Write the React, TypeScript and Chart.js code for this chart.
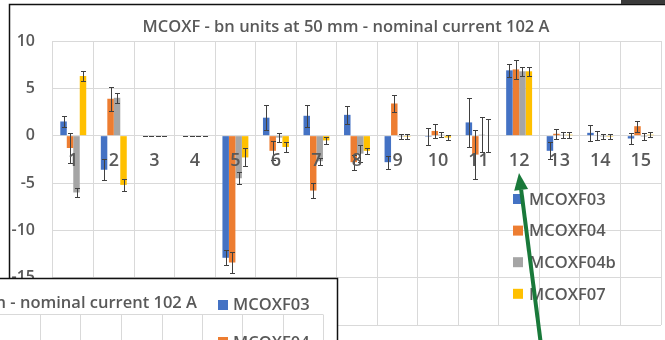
import React, { useEffect, useRef } from "react";
import { Chart, registerables } from "chart.js";

Chart.register(...registerables);

// Measurement positions along the magnet
const categories = ["1", "2", "3", "4", "5", "6", "7", "8", "9", "10", "11", "12", "13", "14", "15"];
const seriesNames = ["MCOXF03", "MCOXF04", "MCOXF04b", "MCOXF07"];
const seriesColors = ["#4472C4", "#ED7D31", "#A5A5A5", "#FFC000"];

// bn harmonics (units) and their uncertainties
const mcoxf03 = [1.5, -3.6, 0, 0, -12.9, 1.9, 2.1, 2.2, -2.8, -0.1, 1.4, 6.9, -1.6, 0.3, -0.3];
const mcoxf03Err = [0.6, 1.1, 0, 0, 0.8, 1.35, 1.15, 0.95, 0.7, 0.9, 2.6, 0.7, 0.9, 0.85, 0.6];
const mcoxf04 = [-1.3, 3.9, 0, 0, -13.4, -1.6, -5.8, -2.8, 3.4, 0.5, -2.0, 7.0, 0.2, 0.0, 1.0];
const mcoxf04Err = [1.6, 1.25, 0, 0, 1.1, 1.0, 0.75, 0.8, 0.9, 0.75, 2.55, 1.0, 0.5, 0.45, 0.6];
const mcoxf04b = [-6.0, 4.0, 0, 0, -4.5, -0.2, -2.7, -1.9, -0.1, 0.1, 0.1, 6.8, 0.1, -0.1, -0.1];
const mcoxf04bErr = [0.5, 0.55, 0, 0, 0.65, 0.45, 0.35, 0.9, 0.25, 0.25, 1.85, 0.45, 0.3, 0.3, 0.4];
const mcoxf07 = [6.3, -5.2, 0, 0, -2.3, -1.2, -0.5, -1.6, -0.1, -0.2, 0.0, 6.8, 0.1, -0.1, 0.1];
const mcoxf07Err = [0.55, 0.6, 0, 0, 0.95, 0.55, 0.35, 0.35, 0.25, 0.25, 1.75, 0.5, 0.3, 0.25, 0.25];

const yTicksMin = -20;
const yTicksMax = 10;
const yStep = 5;

const titleText = "MCOXF - bn units at 50 mm - nominal current 102 A";

const seriesValues = [mcoxf03, mcoxf04, mcoxf04b, mcoxf07];
const seriesErrors = [mcoxf03Err, mcoxf04Err, mcoxf04bErr, mcoxf07Err];

const FONT = "'Open Sans', 'DejaVu Sans', sans-serif";
const TEXT = "#595959";
const GRID = "#D9D9D9";

// Vertical error bars with caps, drawn through the value scale
const errorBarsPlugin = {
  id: "errorBars",
  afterDatasetsDraw(chart: any) {
    const ctx = chart.ctx;
    const y = chart.scales.y;
    ctx.save();
    ctx.strokeStyle = "#404040";
    ctx.lineWidth = 1;
    chart.data.datasets.forEach((ds: any, di: number) => {
      const meta = chart.getDatasetMeta(di);
      const errs = seriesErrors[di];
      meta.data.forEach((bar: any, i: number) => {
        const v = ds.data[i];
        const e = errs[i];
        const x = Math.round(bar.x) + 0.5;
        const y1 = Math.round(y.getPixelForValue(v + e)) + 0.5;
        const y2 = Math.round(y.getPixelForValue(v - e)) + 0.5;
        ctx.beginPath();
        ctx.moveTo(x, y1);
        ctx.lineTo(x, y2);
        ctx.moveTo(x - 2.5, y1);
        ctx.lineTo(x + 2.5, y1);
        ctx.moveTo(x - 2.5, y2);
        ctx.lineTo(x + 2.5, y2);
        ctx.stroke();
      });
    });
    ctx.restore();
  },
};

// Category labels sit next to the zero line, on top of the bars
const categoryLabelsPlugin = {
  id: "categoryLabels",
  afterDatasetsDraw(chart: any) {
    const ctx = chart.ctx;
    const xs = chart.scales.x;
    const y0 = chart.scales.y.getPixelForValue(0);
    ctx.save();
    ctx.fillStyle = TEXT;
    ctx.font = `600 18px ${FONT}`;
    ctx.textAlign = "center";
    ctx.textBaseline = "middle";
    chart.data.labels.forEach((lab: string, i: number) => {
      ctx.fillText(lab, xs.getPixelForValue(i), y0 + 25);
    });
    ctx.restore();
  },
};

// Title, legend, frame and the annotations laid over the figure
const decorPlugin = {
  id: "decor",
  afterDraw(chart: any) {
    const ctx = chart.ctx;
    ctx.save();

    // title
    ctx.fillStyle = TEXT;
    ctx.font = `600 16.5px ${FONT}`;
    ctx.textAlign = "center";
    ctx.textBaseline = "middle";
    ctx.fillText(titleText, 346, 27);

    // legend inside the plot area
    ctx.textAlign = "left";
    chart.data.datasets.forEach((ds: any, i: number) => {
      const cy = 199 + i * 31.6;
      ctx.fillStyle = ds.backgroundColor;
      ctx.fillRect(513, cy - 5, 10, 10);
      ctx.fillStyle = TEXT;
      ctx.font = `600 16.5px ${FONT}`;
      ctx.fillText(ds.label, 529, cy + 1);
    });

    // chart frame
    ctx.strokeStyle = "#111";
    ctx.lineWidth = 1.5;
    ctx.beginPath();
    ctx.moveTo(9.5, 340);
    ctx.lineTo(9.5, 4.5);
    ctx.lineTo(665, 4.5);
    ctx.stroke();
    ctx.fillStyle = "#3a3a3a";
    ctx.fillRect(621, 0, 44, 4);

    // second window overlapping the lower left corner
    ctx.fillStyle = "#ffffff";
    ctx.fillRect(0, 278, 338, 62);
    ctx.strokeStyle = GRID;
    ctx.lineWidth = 1;
    ctx.beginPath();
    ctx.moveTo(0, 314.5);
    ctx.lineTo(323, 314.5);
    [40, 80, 121, 162, 202, 242, 283, 323].forEach((gx) => {
      ctx.moveTo(gx + 0.5, 314.5);
      ctx.lineTo(gx + 0.5, 340);
    });
    ctx.stroke();
    ctx.fillStyle = TEXT;
    ctx.font = `600 16.5px ${FONT}`;
    ctx.textAlign = "right";
    ctx.fillText("50 mm - nominal current 102 A", 197, 303);
    ctx.textAlign = "left";
    ctx.fillStyle = seriesColors[0];
    ctx.fillRect(218, 300, 10, 10);
    ctx.fillStyle = seriesColors[1];
    ctx.fillRect(218, 337, 10, 10);
    ctx.fillStyle = TEXT;
    ctx.fillText(seriesNames[0], 233, 305);
    ctx.fillText(seriesNames[1], 233, 343);
    ctx.strokeStyle = "#111";
    ctx.lineWidth = 1.5;
    ctx.beginPath();
    ctx.moveTo(0, 278.5);
    ctx.lineTo(337.5, 278.5);
    ctx.lineTo(337.5, 340);
    ctx.stroke();

    // green arrow
    const tipX = 519, tipY = 173, tailX = 541, tailY = 345;
    const ang = Math.atan2(tipY - tailY, tipX - tailX);
    const headLen = 17, headW = 7;
    const bx = tipX - headLen * Math.cos(ang);
    const by = tipY - headLen * Math.sin(ang);
    ctx.strokeStyle = "#19793A";
    ctx.fillStyle = "#19793A";
    ctx.lineWidth = 4;
    ctx.beginPath();
    ctx.moveTo(tailX, tailY);
    ctx.lineTo(bx, by);
    ctx.stroke();
    ctx.beginPath();
    ctx.moveTo(tipX, tipY);
    ctx.lineTo(bx + headW * Math.sin(ang), by - headW * Math.cos(ang));
    ctx.lineTo(bx - headW * Math.sin(ang), by + headW * Math.cos(ang));
    ctx.closePath();
    ctx.fill();

    ctx.restore();
  },
};

export default function App() {
  const ref = useRef<HTMLCanvasElement>(null);

  useEffect(() => {
    const chart = new Chart(ref.current as HTMLCanvasElement, {
      type: "bar",
      data: {
        labels: categories,
        datasets: seriesNames.map((name, i) => ({
          label: name,
          data: seriesValues[i],
          backgroundColor: seriesColors[i],
          borderWidth: 0,
          categoryPercentage: 0.64,
          barPercentage: 1,
        })),
      },
      options: {
        responsive: false,
        animation: false,
        devicePixelRatio: 1,
        layout: { padding: { top: 41, right: 4, bottom: 15, left: 0 } },
        plugins: {
          legend: { display: false },
          title: { display: false },
          tooltip: { enabled: false },
        },
        scales: {
          x: {
            grid: { color: GRID, drawTicks: false, offset: true },
            border: { display: false },
            ticks: { display: false },
            afterFit: (s: any) => {
              s.height = 0;
              s.paddingLeft = 0;
              s.paddingRight = 0;
            },
          },
          y: {
            min: yTicksMin,
            max: yTicksMax,
            ticks: {
              stepSize: yStep,
              padding: 18,
              color: TEXT,
              font: { family: FONT, size: 16, weight: "600" },
            },
            grid: { color: GRID, drawTicks: false },
            border: { display: false },
            afterFit: (s: any) => {
              s.width = 53;
              s.paddingTop = 0;
              s.paddingBottom = 0;
            },
          },
        },
      } as any,
      plugins: [errorBarsPlugin, categoryLabelsPlugin, decorPlugin],
    });
    return () => chart.destroy();
  }, []);

  return (
    <div style={{ position: "fixed", left: 0, top: 0, width: 665, height: 340, background: "#fff" }}>
      <canvas ref={ref} width={665} height={340} style={{ display: "block" }} />
    </div>
  );
}
